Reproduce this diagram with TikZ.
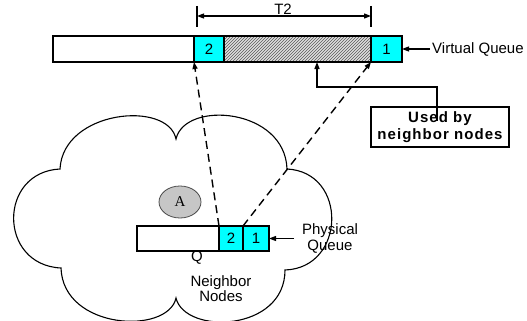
\documentclass[tikz,border=0pt]{standalone}
\usepackage{fontspec}
\setmainfont{Liberation Sans}
\newfontfamily\serifA{Liberation Serif}
\usetikzlibrary{arrows.meta,patterns,shapes.geometric}
\definecolor{qcyan}{RGB}{0,255,255}
\begin{document}
\begin{tikzpicture}[x=1pt,y=-1pt,
  every node/.style={font=\fontsize{15}{15}\selectfont},
  qcell/.style={draw=black, line width=1.3pt, inner sep=0pt, outer sep=0pt, minimum height=#1},
  qcell/.default=26pt,
  cyancell/.style={qcell=#1, fill=qcyan},
  cyancell/.default=26pt,
  tip/.style={-{Triangle[length=7pt,width=5pt]}},
  dashline/.style={line width=1.4pt, dash pattern=on 8pt off 5pt, tip},
  plainline/.style={line width=1.2pt},
  lbl/.style={inner sep=1pt, align=center}
]
\useasboundingbox (0,0) rectangle (527,321);

% cloud
\draw[line width=1.1pt, fill=white] (60,169)
  .. controls (63,110) and (168,100) .. (176,139)
  .. controls (185,100) and (285,108) .. (287,169)
  .. controls (348,172) and (346,268) .. (285,270)
  .. controls (285,332) and (185,335) .. (176,298)
  .. controls (168,335) and (63,330) .. (61,268)
  .. controls (-2,265) and (-2,172) .. cycle;

% virtual queue
\node[qcell, minimum width=141pt, fill=white] (vqe) at (123.5,49) {};
\node[cyancell, minimum width=30pt] (vq2) at (209,49) {2};
\node[qcell, minimum width=147pt, preaction={fill=gray!25}, pattern=north east lines, pattern color=gray!70!black] (vqh) at (297.5,49) {};
\node[cyancell, minimum width=31pt] (vq1) at (386.5,49) {1};

% T2 dimension
\coordinate (t2a) at (197,6);
\coordinate (t2b) at (197,27);
\coordinate (t2c) at (371,6);
\coordinate (t2d) at (371,27);
\coordinate (t2l) at (197,16);
\coordinate (t2r) at (371,16);
\draw[plainline] (t2a) -- (t2b);
\draw[plainline] (t2c) -- (t2d);
\draw[plainline, {Triangle[length=7pt,width=5pt]}-{Triangle[length=7pt,width=5pt]}] (t2l) -- (t2r);
\node[lbl] (t2) at (283,9) {T2};

% virtual queue label
\node[lbl, anchor=west] (vql) at (431,49) {Virtual Queue};
\coordinate (vqa) at (430,49);
\draw[plainline, tip] (vqa) -- (vq1.east);

% used by neighbor nodes
\node[draw=black, line width=1.6pt, minimum width=138pt, minimum height=40pt, inner sep=0pt, align=center,
  font=\fontsize{15}{17}\selectfont\bfseries\addfontfeatures{LetterSpace=7}] (used) at (440,127) {Used by\\neighbor nodes};
\coordinate (ustart) at (437,121);
\coordinate (uturn) at (437,87);
\coordinate (utip) at (317,62);
\draw[line width=1.5pt, tip] (ustart) -- (uturn) -| (utip);

% physical queue
\node[qcell=25pt, minimum width=82pt, fill=white] (pqe) at (178,238.5) {};
\node[cyancell=25pt, minimum width=24pt] (pq2) at (231,238.5) {2};
\node[cyancell=25pt, minimum width=26pt] (pq1) at (256,238.5) {1};
\node[lbl] (phys) at (330,238.5) {Physical\\[1pt]Queue};
\coordinate (pqa) at (294,238.5);
\draw[plainline, tip] (pqa) -- (pq1.east);

% dashed mappings
\draw[dashline] (pq2.north west) -- (vq2.south west);
\draw[dashline] (pq1.north west) -- (vq1.south west);

% A
\node[ellipse, fill=gray!45, draw=gray!60!black, line width=0.8pt, minimum width=42pt, minimum height=32pt, inner sep=0pt,
  font=\fontsize{15}{15}\selectfont\serifA] (A) at (180,202) {A};

% labels
\node[lbl] (q) at (197,258) {Q};
\node[lbl] (nn) at (221,289) {Neighbor\\Nodes};
\end{tikzpicture}
\end{document}
